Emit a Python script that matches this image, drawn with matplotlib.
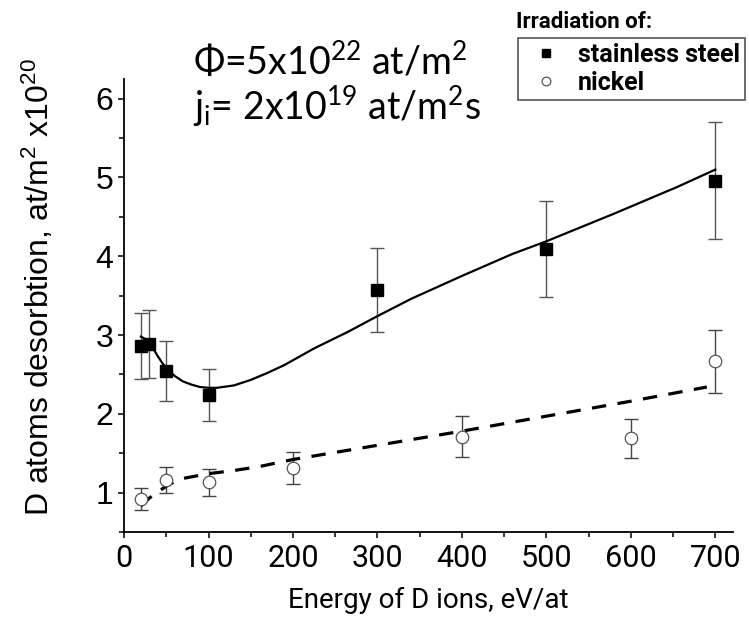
import numpy as np
import matplotlib
matplotlib.use('Agg')
import matplotlib.pyplot as plt
from matplotlib.ticker import MultipleLocator

plt.rcParams['mathtext.default'] = 'regular'

# measured desorption, x10^20 at/m^2
energy_ss = [20, 30, 50, 100, 300, 500, 700]
ss = [2.86, 2.89, 2.54, 2.24, 3.57, 4.09, 4.96]
ss_err = [0.42, 0.43, 0.38, 0.33, 0.53, 0.61, 0.74]

energy_ni = [20, 50, 100, 200, 400, 600, 700]
ni = [0.92, 1.16, 1.13, 1.31, 1.71, 1.69, 2.67]
ni_err = [0.14, 0.17, 0.17, 0.20, 0.26, 0.25, 0.40]

# fitted trend curves
fit_ss_x = [20, 25, 30, 35, 40, 45, 50, 60, 70, 80, 90, 100, 110, 130, 150, 170, 190,
            210, 225, 265, 300, 340, 400, 460, 500, 580, 655, 700]
fit_ss_y = [2.98, 2.95, 2.90, 2.82, 2.73, 2.65, 2.58, 2.48, 2.41, 2.37, 2.34, 2.33,
            2.33, 2.36, 2.43, 2.52, 2.62, 2.74, 2.83, 3.04, 3.24, 3.46, 3.75, 4.03,
            4.19, 4.54, 4.88, 5.10]

fit_ni_x = [20, 30, 40, 50, 60, 70, 85, 100, 130, 160, 200, 300, 400, 500, 600, 690]
fit_ni_y = [0.83, 0.93, 1.01, 1.08, 1.14, 1.18, 1.21, 1.24, 1.28, 1.33, 1.42,
            1.60, 1.78, 1.97, 2.16, 2.34]

narrow = ['Roboto', 'DejaVu Sans']
plain = ['Liberation Sans', 'DejaVu Sans']
note = ['Lato', 'DejaVu Sans']

fig = plt.figure(figsize=(7.49, 6.26), dpi=100)
ax = fig.add_axes([0.1656, 0.1502, 0.8131, 0.7236])

ax.plot(fit_ss_x, fit_ss_y, color='black', lw=1.6, zorder=3)
ax.plot(fit_ni_x, fit_ni_y, color='black', lw=2.3, ls=(0, (4.5, 3.6)), zorder=3)

ax.errorbar(energy_ss, ss, yerr=ss_err, fmt='none', ecolor='#555555',
            elinewidth=1, capsize=5, capthick=1, zorder=2)
ax.errorbar(energy_ni, ni, yerr=ni_err, fmt='none', ecolor='#444444',
            elinewidth=1, capsize=5, capthick=1, zorder=2)
h_ss, = ax.plot(energy_ss, ss, 's', color='black', ms=9, label='stainless steel', zorder=4)
h_ni, = ax.plot(energy_ni, ni, 'o', mfc='white', mec='#555555', mew=0.9, ms=9,
                label='nickel', zorder=4)

ax.set_xlim(0, 721)
ax.set_ylim(0.5, 6.25)
ax.xaxis.set_major_locator(MultipleLocator(100))
ax.xaxis.set_minor_locator(MultipleLocator(50))
ax.yaxis.set_major_locator(MultipleLocator(1))
ax.yaxis.set_minor_locator(MultipleLocator(0.5))
ax.spines['top'].set_visible(False)
ax.spines['right'].set_visible(False)
for s in ('left', 'bottom'):
    ax.spines[s].set_linewidth(1.3)
ax.tick_params(which='major', direction='out', length=4.5, width=1.1)
ax.tick_params(which='minor', direction='out', length=3.5, width=1.1)
ax.tick_params(axis='x', pad=4)
ax.tick_params(axis='y', pad=3)

for lab in ax.get_xticklabels():
    lab.set_family(narrow)
    lab.set_fontsize(22)
for lab in ax.get_yticklabels():
    lab.set_family(plain)
    lab.set_fontsize(23)

ax.set_xlabel('Energy of D ions, eV/at', family=narrow, fontsize=20, labelpad=10)
ax.set_ylabel('D atoms desorbtion, at/m$^2$ x10$^{20}$', family=plain, fontsize=23)
ax.yaxis.set_label_coords(-0.112, 0.54)

fig.text(193 / 749, 1 - 75 / 626, 'Φ=5x10$^{22}$ at/m$^2$', family=note,
         fontsize=27, va='baseline')
fig.text(193 / 749, 1 - 120 / 626, 'j$_i$= 2x10$^{19}$ at/m$^2$s', family=note,
         fontsize=27, va='baseline')

fig.text(516 / 749, 1 - 28 / 626, 'Irradiation of:', family=narrow,
         fontweight='bold', fontsize=16, va='baseline')
leg = fig.legend(handles=[h_ss, h_ni], loc='upper left',
                 bbox_to_anchor=(518 / 749, 1 - 38 / 626), borderaxespad=0,
                 prop={'family': narrow, 'weight': 'bold', 'size': 18},
                 markerscale=0.7, handlelength=1.8, handletextpad=0.4,
                 borderpad=0.2, labelspacing=0.15, fancybox=False,
                 edgecolor='#555555', framealpha=1)
leg.get_frame().set_linewidth(1.2)

fig.savefig('out.png', dpi=100)
